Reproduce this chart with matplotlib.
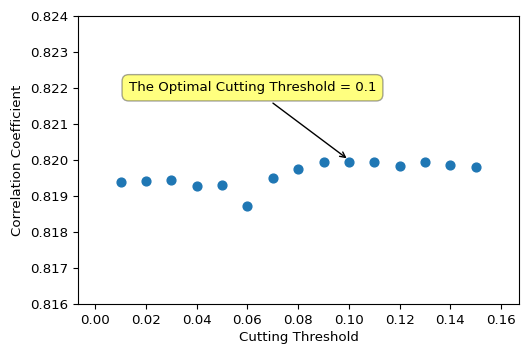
import numpy as np
import matplotlib
matplotlib.use("Agg")
import matplotlib.pyplot as plt

thresholds = [0.01, 0.02, 0.03, 0.04, 0.05, 0.06, 0.07, 0.08,
              0.09, 0.10, 0.11, 0.12, 0.13, 0.14, 0.15]
corr = [0.81938, 0.81941, 0.81944, 0.81929, 0.81931, 0.81872, 0.81950,
        0.81975, 0.81994, 0.81995, 0.81995, 0.81983, 0.81994, 0.81987, 0.81980]

plt.rcParams["font.size"] = 9.6

fig = plt.figure(figsize=(5.21, 3.47), dpi=100)
ax = fig.add_subplot(111)
ax.scatter(thresholds, corr, s=40, color="#1f77b4", zorder=3)

ax.set_xlim(-0.0067, 0.167)
ax.set_ylim(0.816, 0.824)
ax.set_xticks(np.arange(0, 0.161, 0.02))
ax.set_yticks(np.arange(0.816, 0.8241, 0.001))
ax.set_yticklabels([f"{v:.3f}" for v in np.arange(0.816, 0.8241, 0.001)])
ax.set_xlabel("Cutting Threshold", labelpad=3)
ax.set_ylabel("Correlation Coefficient")

ax.annotate("The Optimal Cutting Threshold = 0.1",
            xy=(0.10, 0.82), xytext=(0.062, 0.822),
            ha="center", va="center",
            bbox=dict(boxstyle="round,pad=0.5", fc="yellow", ec="0.3", alpha=0.5),
            arrowprops=dict(arrowstyle="->", color="black"))

fig.subplots_adjust(left=0.150, right=0.996, top=0.955, bottom=0.123)
fig.savefig("out.png", dpi=100)
